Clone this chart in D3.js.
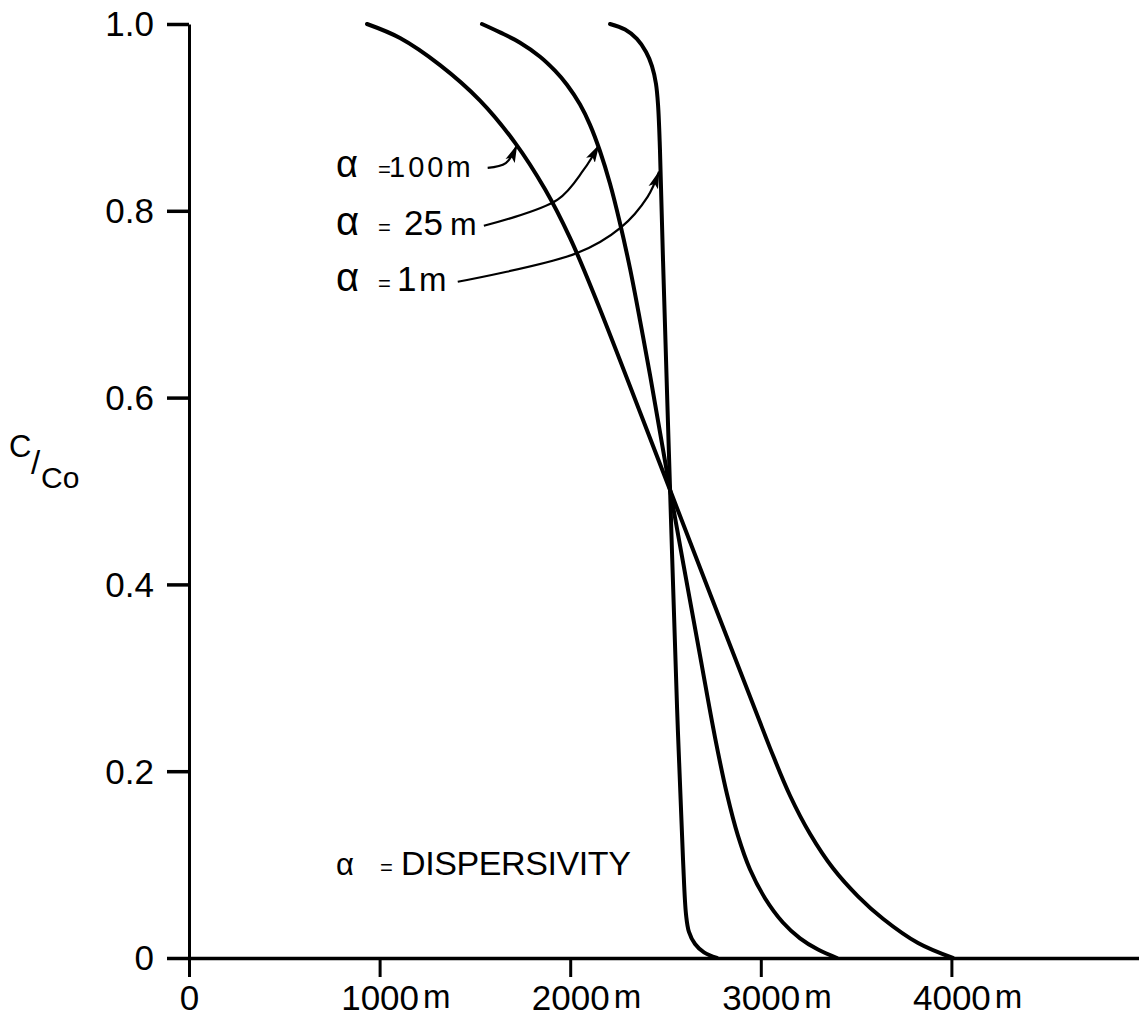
<!DOCTYPE html>
<html>
<head>
<meta charset="utf-8">
<script src="https://cdn.jsdelivr.net/npm/d3@7"></script>
<style>
  html, body { margin: 0; padding: 0; background: #fff; }
  svg { display: block; }
  text { font-family: "Liberation Sans", Arial, sans-serif; fill: #000; }
</style>
</head>
<body>
<svg id="chart" width="1139" height="1017"></svg>
<script>
// Breakthrough curves: relative concentration C/Co against distance (m)
// for three values of the dispersivity alpha.
const curve1m = [
  [2209, 1.0], [2288, 0.994], [2350, 0.984], [2398, 0.970], [2429, 0.955],
  [2450, 0.936], [2461, 0.913], [2471, 0.865], [2487, 0.747], [2524, 0.501],
  [2561, 0.266], [2592, 0.105], [2608, 0.046], [2623, 0.028], [2655, 0.015],
  [2702, 0.006], [2770, 0.0]
];
const curve25m = [
  [1537, 1.0], [1632, 0.991], [1737, 0.980], [1842, 0.965], [1920, 0.950],
  [1983, 0.935], [2051, 0.914], [2104, 0.892], [2156, 0.864], [2209, 0.829],
  [2261, 0.787], [2314, 0.738], [2366, 0.683], [2419, 0.624], [2524, 0.501],
  [2681, 0.324], [2760, 0.236], [2823, 0.175], [2880, 0.131], [2943, 0.095],
  [3022, 0.064], [3116, 0.038], [3206, 0.021], [3300, 0.009], [3400, 0.0]
];
const curve100m = [
  [934, 1.0], [1107, 0.985], [1317, 0.956], [1527, 0.918], [1710, 0.873],
  [1868, 0.823], [1999, 0.771], [2130, 0.708], [2524, 0.501], [3048, 0.225],
  [3153, 0.174], [3258, 0.133], [3379, 0.096], [3510, 0.066], [3641, 0.042],
  [3825, 0.016], [4008, 0.0]
];

// Leader lines from each label to its curve (distance, C/Co)
const leader100m = [[1567, 0.846], [1662, 0.851], [1720, 0.870]];
const leader25m  = [[1547, 0.784], [1934, 0.812], [2071, 0.844], [2150, 0.870]];
const leader1m   = [[1410, 0.724], [2039, 0.755], [2265, 0.782], [2406, 0.815], [2466, 0.842]];

const xTicks = [0, 1000, 2000, 3000, 4000];
const xTickLabels = ["0", "1000", "2000", "3000", "4000"];
const xUnit = "m";
const yTicks = [0, 0.2, 0.4, 0.6, 0.8, 1.0];
const yTickLabels = ["0", "0.2", "0.4", "0.6", "0.8", "1.0"];

const svg = d3.select("#chart");

const x = d3.scaleLinear().domain([0, 5000]).range([189, 1142]);
const y = d3.scaleLinear().domain([0, 1]).range([958, 24]);

// Y axis
const yAxis = d3.axisLeft(y)
  .tickValues(yTicks)
  .tickSize(22)
  .tickSizeOuter(0)
  .tickPadding(13)
  .tickFormat((d, i) => yTickLabels[i]);

const gy = svg.append("g")
  .attr("transform", `translate(${x(0)},0)`)
  .call(yAxis);
gy.select(".domain").attr("stroke", "#000").attr("stroke-width", 3);
gy.selectAll(".tick line").attr("stroke", "#000").attr("stroke-width", 3.5);
gy.selectAll(".tick text")
  .attr("font-size", 35)
  .attr("font-family", "Liberation Sans, Arial, sans-serif")
  .attr("dy", "0.34em");

// X axis
const xAxis = d3.axisBottom(x)
  .tickValues(xTicks)
  .tickSize(19)
  .tickSizeOuter(0)
  .tickPadding(8)
  .tickFormat((d, i) => xTickLabels[i]);

const gx = svg.append("g")
  .attr("transform", `translate(0,${y(0)})`)
  .call(xAxis);
gx.select(".domain").attr("stroke", "#000").attr("stroke-width", 3.5);
gx.selectAll(".tick line").attr("stroke", "#000").attr("stroke-width", 3);
gx.selectAll(".tick text")
  .attr("font-size", 35)
  .attr("font-family", "Liberation Sans, Arial, sans-serif");

// unit "m" set just to the right of each non-zero distance label
gx.selectAll(".tick").each(function(d) {
  if (d === 0) return;
  const t = d3.select(this).select("text");
  const w = t.node().getComputedTextLength();
  d3.select(this).append("text")
    .attr("x", w / 2 + 4)
    .attr("y", t.attr("y"))
    .attr("dy", t.attr("dy"))
    .attr("font-size", 33)
    .attr("text-anchor", "start")
    .attr("fill", "#000")
    .text(xUnit);
});

// Curves
const line = d3.line()
  .x(d => x(d[0]))
  .y(d => y(d[1]))
  .curve(d3.curveCatmullRom.alpha(0.5));

[curve100m, curve25m, curve1m].forEach(data => {
  svg.append("path")
    .datum(data)
    .attr("d", line)
    .attr("fill", "none")
    .attr("stroke", "#000")
    .attr("stroke-width", 4)
    .attr("stroke-linecap", "round")
    .attr("stroke-linejoin", "round");
});

// Arrowhead for leader lines
svg.append("defs").append("marker")
  .attr("id", "arrow")
  .attr("markerUnits", "userSpaceOnUse")
  .attr("viewBox", "0 -6 18 12")
  .attr("refX", 17)
  .attr("refY", 0)
  .attr("markerWidth", 18)
  .attr("markerHeight", 12)
  .attr("orient", "auto")
  .append("path")
  .attr("d", "M0,-5L18,0L0,5L4,0Z")
  .attr("fill", "#000");

const leaderLine = d3.line()
  .x(d => x(d[0]))
  .y(d => y(d[1]))
  .curve(d3.curveCatmullRom.alpha(0.5));

[leader100m, leader25m, leader1m].forEach(data => {
  svg.append("path")
    .datum(data)
    .attr("d", leaderLine)
    .attr("fill", "none")
    .attr("stroke", "#000")
    .attr("stroke-width", 2.2)
    .attr("marker-end", "url(#arrow)");
});

// Curve labels
function label(parts, baseline) {
  const t = svg.append("text").attr("y", baseline);
  parts.forEach(p => {
    t.append("tspan")
      .attr("x", p.x)
      .attr("font-size", p.size)
      .attr("letter-spacing", p.ls || 0)
      .text(p.s);
  });
}

label([
  { s: "α", x: 336, size: 38 },
  { s: "=", x: 378, size: 22 },
  { s: "100m", x: 389, size: 29, ls: 3 }
], 177);

label([
  { s: "α", x: 336, size: 40 },
  { s: "=", x: 378, size: 22 },
  { s: "25", x: 404, size: 35 },
  { s: "m", x: 450, size: 32 }
], 235);

label([
  { s: "α", x: 336, size: 40 },
  { s: "=", x: 378, size: 22 },
  { s: "1", x: 397, size: 35 },
  { s: "m", x: 419, size: 33 }
], 291);

label([
  { s: "α", x: 336, size: 31 },
  { s: "=", x: 380, size: 22 },
  { s: "DISPERSIVITY", x: 401, size: 34, ls: -0.4 }
], 875);

// Axis title C/Co
svg.append("text").attr("x", 9).attr("y", 457).attr("font-size", 31).text("C");
svg.append("text").attr("x", 31).attr("y", 474).attr("font-size", 33).text("/");
svg.append("text").attr("x", 41).attr("y", 488).attr("font-size", 30).text("Co");
</script>
</body>
</html>
